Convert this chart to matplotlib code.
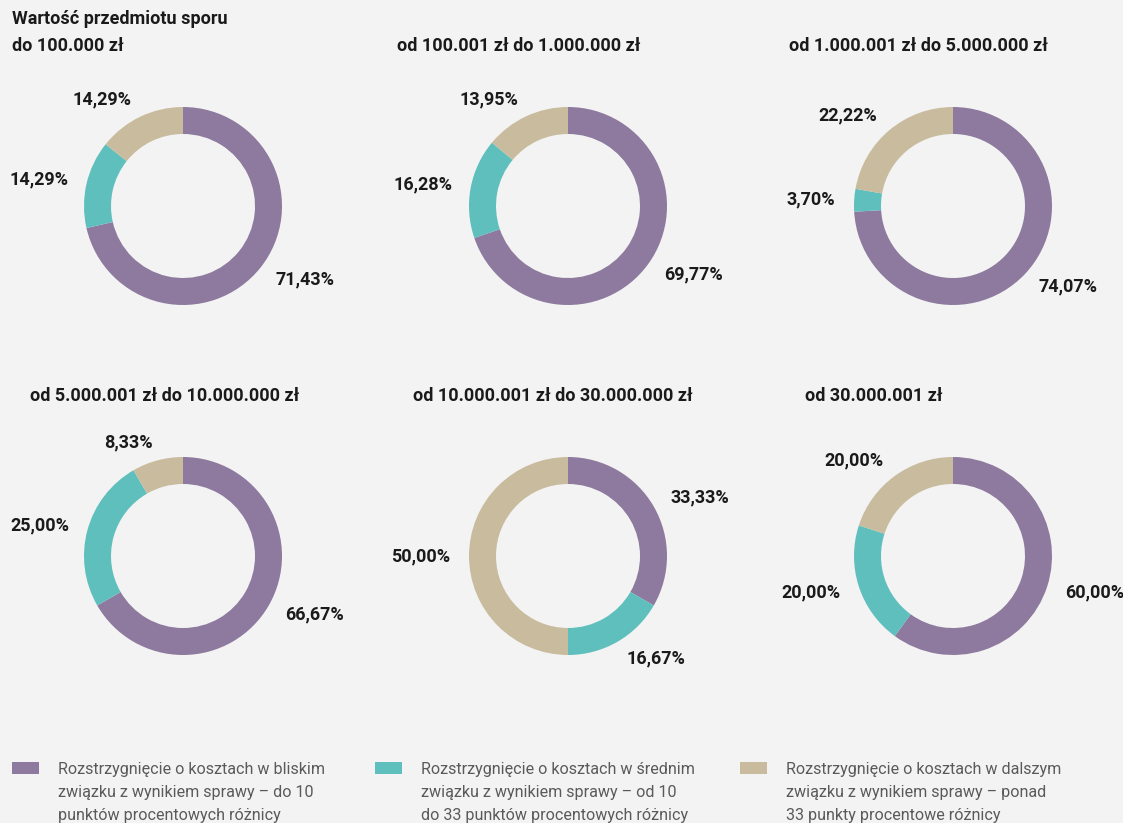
import matplotlib
matplotlib.use("Agg")
import matplotlib.pyplot as plt

BG = "#f3f3f3"
COLORS = ["#8d7a9e", "#5fbfbd", "#c9bc9e"]
TXT = "#1a1a1a"

titles = [
    "Wartość przedmiotu sporu\ndo 100.000 zł",
    "od 100.001 zł do 1.000.000 zł",
    "od 1.000.001 zł do 5.000.000 zł",
    "od 5.000.001 zł do 10.000.000 zł",
    "od 10.000.001 zł do 30.000.000 zł",
    "od 30.000.001 zł",
]
close_vals = [71.43, 69.77, 74.07, 66.67, 33.33, 60.00]
medium_vals = [14.29, 16.28, 3.70, 25.00, 16.67, 20.00]
far_vals = [14.29, 13.95, 22.22, 8.33, 50.00, 20.00]
legend_labels = [
    "Rozstrzygnięcie o kosztach w bliskim\nzwiązku z wynikiem sprawy – do 10\npunktów procentowych różnicy",
    "Rozstrzygnięcie o kosztach w średnim\nzwiązku z wynikiem sprawy – od 10\ndo 33 punktów procentowych różnicy",
    "Rozstrzygnięcie o kosztach w dalszym\nzwiązku z wynikiem sprawy – ponad\n33 punkty procentowe różnicy",
]

W, H = 1123, 823
fig = plt.figure(figsize=(W / 100, H / 100), dpi=100, facecolor=BG)

centers = [(183, 206), (568, 206), (953, 206), (183, 556), (568, 556), (953, 556)]
title_pos = [(12, 46), (397, 46), (789, 46), (30, 396), (413, 396), (805, 396)]
half = 160

def fmt(v):
    return f"{v:.2f}".replace(".", ",") + "%"

for i, (cx, cy) in enumerate(centers):
    ax = fig.add_axes([(cx - half) / W, (H - cy - half) / H, 2 * half / W, 2 * half / H])
    ax.set_facecolor("none")
    vals = [close_vals[i], medium_vals[i], far_vals[i]]
    ax.pie(vals, colors=COLORS, startangle=90, counterclock=False, radius=0.99,
           wedgeprops=dict(width=0.27, linewidth=0),
           labels=[fmt(v) for v in vals], labeldistance=1.19,
           textprops=dict(fontsize=13, fontweight="semibold", family="Roboto", color=TXT))
    ax.set_xlim(-1.6, 1.6)
    ax.set_ylim(-1.6, 1.6)
    ax.set_aspect("equal")
    ax.axis("off")

title_kw = dict(ha="left", va="center", fontsize=13, fontweight="semibold", family="Roboto", color=TXT)
fig.text(12 / W, 1 - 19 / H, titles[0].split("\n")[0], **title_kw)
for (tx, ty), t in zip(title_pos, titles):
    fig.text(tx / W, 1 - ty / H, t.split("\n")[-1], **title_kw)

leg_x = [12, 375, 740]
for x, lab, c in zip(leg_x, legend_labels, COLORS):
    fig.patches.append(plt.Rectangle((x / W, 1 - 774 / H), 27 / W, 12 / H, transform=fig.transFigure,
                                     facecolor=c, edgecolor="none"))
    fig.text((x + 46) / W, 1 - 762 / H, lab, ha="left", va="top", fontsize=11.6,
             fontweight="normal", family="Roboto", color="#5a5a5a", linespacing=1.65)

fig.savefig("out.png", dpi=100, facecolor=BG)
